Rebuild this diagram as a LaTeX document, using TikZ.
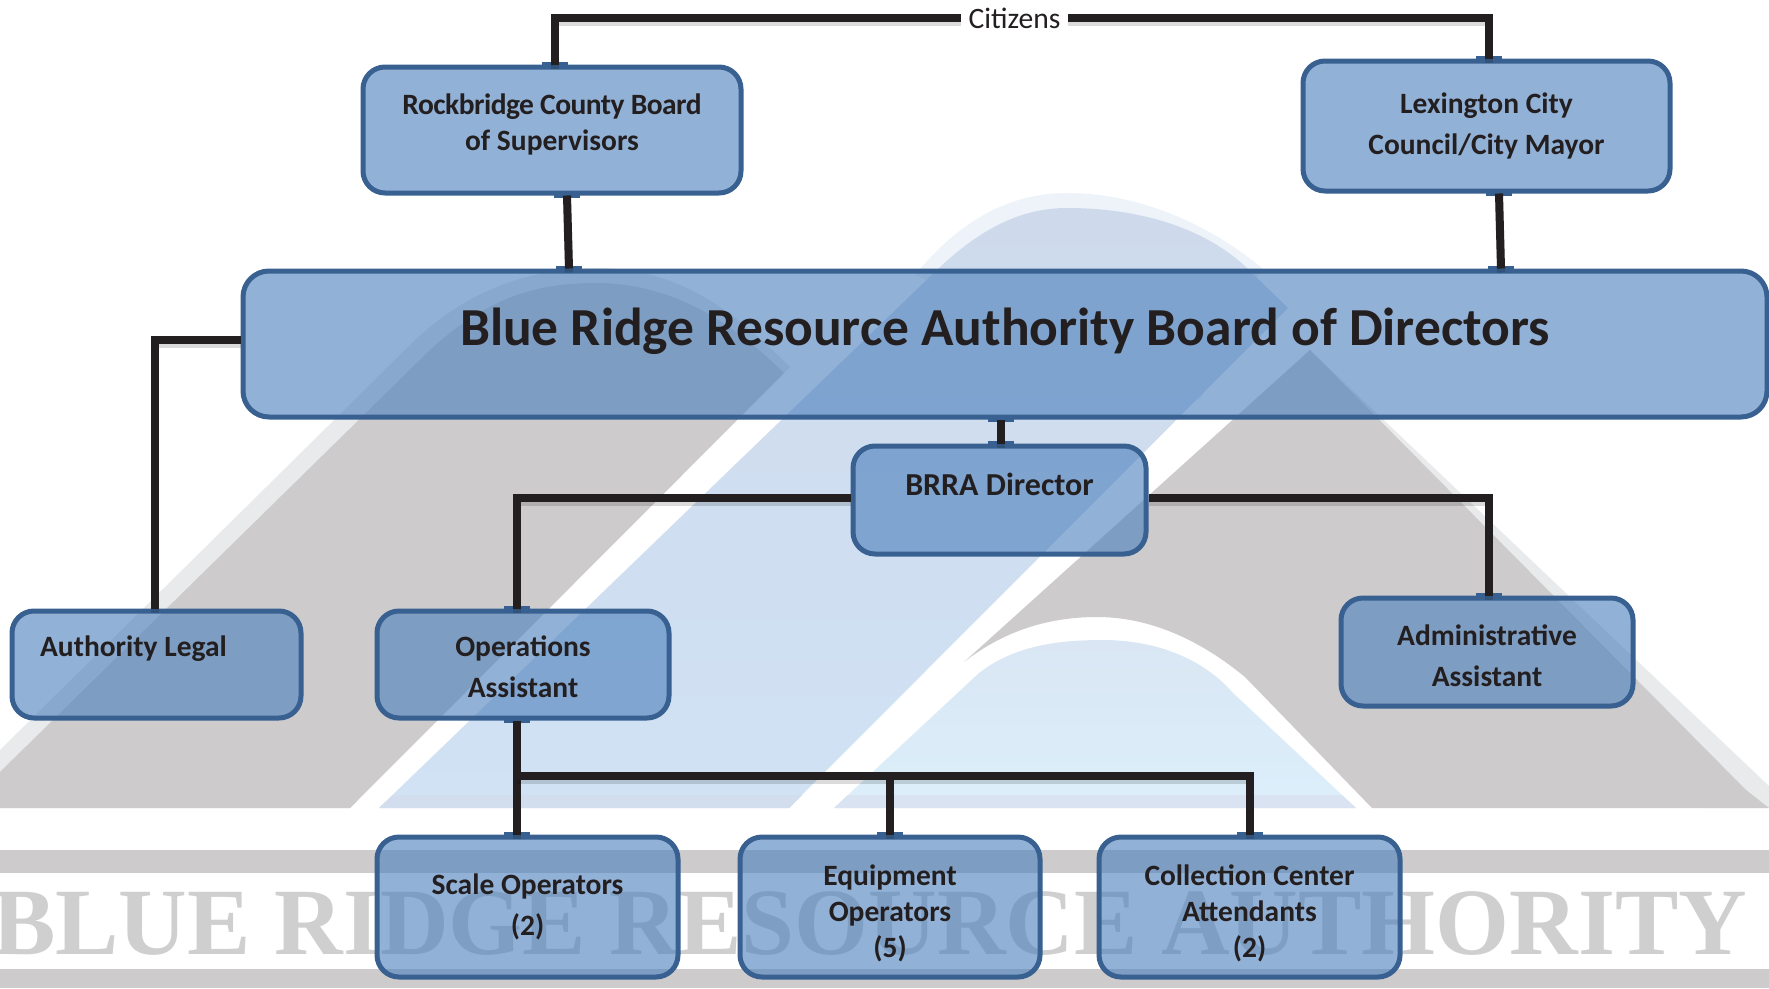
\documentclass[tikz,border=0pt]{standalone}
\usepackage{fontspec}
\setmainfont{Carlito}
\newfontfamily\logofont{Liberation Serif}
\definecolor{boxfill}{HTML}{4F81BD}
\definecolor{boxline}{HTML}{386090}
\definecolor{inkline}{HTML}{231F20}
\definecolor{logogray}{HTML}{CDCBCB}
\definecolor{logoedge}{HTML}{E8EAEB}
\definecolor{logotextgray}{HTML}{CFCFCF}
\definecolor{bluehalo}{HTML}{EEF3F9}
\definecolor{bluetop}{HTML}{CEDAEC}
\definecolor{bluelow}{HTML}{D0E2F4}
\definecolor{bluebase}{HTML}{D2DDED}
\definecolor{domeTop}{HTML}{DAE6F3}
\definecolor{domeMid}{HTML}{DCF0FC}
\definecolor{domeLow}{HTML}{DBEFFB}
\definecolor{domeBase}{HTML}{D9E3F1}
\newcommand\lift[2]{\raisebox{#1}[0pt][0pt]{\begin{tabular}{@{}c@{}}#2\end{tabular}}}
\tikzset{
  orgbox/.style={draw=boxline,line width=5pt,fill=boxfill,fill opacity=.62,text opacity=1,rounded corners=22pt,inner sep=0pt,text=inkline,font=\bfseries\fontsize{29.5}{36}\selectfont},
  wide/.style={font=\bfseries\fontsize{29.5}{41}\selectfont},
  conn/.style={draw=inkline,line width=8pt,preaction={draw=black,draw opacity=.14,line width=8pt,transform canvas={yshift=-4pt}}},
  nub/.style={draw=boxline,line width=5pt},
}
\newcommand\nub[2]{\draw[nub] ([xshift=#1-13pt]#2) -- ([xshift=#1+13pt]#2);}
\begin{document}
\begin{tikzpicture}[x=1pt,y=-1pt]
\useasboundingbox (0,0) rectangle (1769,988);
% logo in the background
\fill[logogray] (0,850) rectangle (1769,873);
\fill[logogray] (0,969) rectangle (1769,988);
\node[anchor=west,inner sep=0pt,text=logotextgray,font=\logofont\bfseries\fontsize{95}{95}\selectfont] (logotext) at (-8,923) {BLUE RIDGE RESOURCE AUTHORITY};
% left grey peak
\fill[logoedge] (0,750) -- (410,345) .. controls (470,285) and (540,268) .. (596,268) .. controls (680,268) and (735,312) .. (790,367) -- (784,373) -- (350,808) -- (0,808) -- cycle;
\fill[logogray] (0,772) -- (430,350) .. controls (490,295) and (540,283) .. (596,283) .. controls (670,283) and (730,320) .. (784,373) -- (350,808) -- (0,808) -- cycle;
% right grey peak
\fill[logoedge] (1310,350) -- (1769,786) -- (1769,808) -- (1700,808) -- cycle;
\fill[logogray] (964,662) -- (1310,350) -- (1746,790) -- (1769,808) -- (1372,808) -- (1245,677) .. controls (1200,640) and (1150,617) .. (1097,617) .. controls (1050,617) and (1005,630) .. (964,662) -- cycle;
% large blue peak
\fill[bluehalo] (915,275) .. controls (960,220) and (1010,193) .. (1067,193) .. controls (1140,193) and (1210,225) .. (1262,268) -- (1200,400) -- cycle;
\shade[top color=bluetop,bottom color=bluelow] (379,808) -- (940,267) .. controls (985,225) and (1025,208) .. (1067,208) .. controls (1140,208) and (1205,228) .. (1247,268) -- (1288,308) -- (789,808) -- cycle;
\fill[bluebase] (379,808) -- (393,795) -- (802,795) -- (789,808) -- cycle;
% small blue peak
\shade[top color=domeTop,middle color=domeMid,bottom color=domeLow] (834,808) -- (979,673) .. controls (1015,645) and (1060,640) .. (1103,640) .. controls (1150,640) and (1200,655) .. (1233,693) -- (1356,808) -- cycle;
\fill[domeBase] (834,808) -- (848,795) -- (1342,795) -- (1356,808) -- cycle;
% boxes
\node[orgbox,minimum width=378pt,minimum height=126pt] (rock) at (552,130) {\lift{-1.5pt}{{\addfontfeature{LetterSpace=-1.8}Rockbridge County Board}\\of Supervisors}};
\node[orgbox,wide,minimum width=367pt,minimum height=130pt] (lex) at (1486.5,126) {\lift{-6pt}{Lexington City\\Council/City Mayor}};
\node[orgbox,rounded corners=26pt,font=\bfseries\fontsize{53.5}{60}\selectfont,minimum width=1524pt,minimum height=146pt] (board) at (1005,344) {\lift{4pt}{Blue Ridge Resource Authority Board of Directors}};
\node[orgbox,font=\bfseries\fontsize{32}{36}\selectfont,minimum width=293pt,minimum height=108pt] (dir) at (999.5,500) {\lift{5pt}{BRRA Director}};
\node[orgbox,minimum width=289pt,minimum height=107pt] (legal) at (156.5,664.5) {\hspace*{-46pt}\lift{9pt}{Authority Legal}};
\node[orgbox,wide,minimum width=292pt,minimum height=107pt] (ops) at (523,664.5) {\lift{-11pt}{Operations\\Assistant}};
\node[orgbox,wide,minimum width=292pt,minimum height=108pt] (admin) at (1487,652) {\lift{-12pt}{Administrative\\Assistant}};
\node[orgbox,wide,minimum width=301pt,minimum height=140pt] (scale) at (527.5,907) {\lift{-6pt}{Scale Operators\\(2)}};
\node[orgbox,minimum width=300pt,minimum height=140pt] (equip) at (890,907) {\lift{-13.5pt}{Equipment\\Operators\\(5)}};
\node[orgbox,minimum width=301pt,minimum height=140pt] (coll) at (1249.5,907) {\lift{-13.5pt}{Collection Center\\Attendants\\(2)}};
\node[inner sep=0pt,minimum width=107pt,minimum height=30pt,text=inkline,font=\fontsize{29.6}{30}\selectfont] (citizens) at (1014.5,18) {\raisebox{-2pt}{Citizens}};
\coordinate (bus) at (517,776);
% connection marks on the box edges
\nub{3pt}{rock.north}
\nub{15pt}{rock.south}
\nub{2pt}{lex.north}
\nub{12.5pt}{lex.south}
\nub{-436pt}{board.north}
\nub{496pt}{board.north}
\nub{-4pt}{board.south}
\nub{1.5pt}{dir.north}
\nub{2pt}{admin.north}
\nub{-6pt}{ops.north}
\nub{-6pt}{ops.south}
\nub{-10.5pt}{scale.north}
\nub{0pt}{equip.north}
\nub{0pt}{coll.north}
% connectors
\draw[conn] (citizens.west) -| ([xshift=3pt]rock.north);
\draw[conn] (citizens.east) -| ([xshift=2pt]lex.north);
\draw[conn] ([xshift=15pt]rock.south) -- ([xshift=-436pt]board.north);
\draw[conn] ([xshift=12.5pt]lex.south) -- ([xshift=496pt]board.north);
\draw[conn] ([yshift=4pt]board.west) -| ([xshift=-2pt]legal.north);
\draw[conn] ([xshift=-4pt]board.south) -- ([xshift=1.5pt]dir.north);
\draw[conn] ([yshift=2pt]dir.west) -| ([xshift=-6pt]ops.north);
\draw[conn] ([yshift=2pt]dir.east) -| ([xshift=2pt]admin.north);
\draw[conn] ([xshift=-6pt]ops.south) -- ([xshift=-10.5pt]scale.north);
\draw[conn] (bus) -| (coll.north);
\draw[conn] (bus -| equip.north) -- (equip.north);
\end{tikzpicture}
\end{document}
